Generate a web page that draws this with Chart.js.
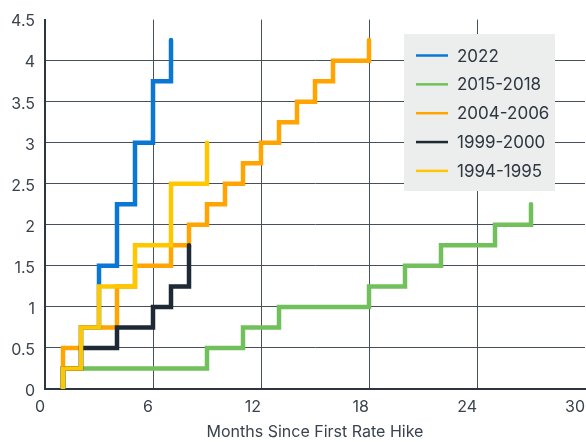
<!DOCTYPE html>
<html>
<head>
<meta charset="utf-8">
<title>Fed Hiking Cycles</title>
<script src="https://cdn.jsdelivr.net/npm/chart.js@4/dist/chart.umd.min.js"></script>
<style>
  html, body { margin: 0; padding: 0; background: #ffffff; }
  #wrap { width: 586px; height: 442px; }
</style>
</head>
<body>
<div id="wrap"><canvas id="chart" width="586" height="442"></canvas></div>
<script>
// Cumulative rate increases (percentage points) by month of each hiking cycle.
const months2022 = [1, 1, 2, 3, 4, 5, 6, 7];
const rates2022  = [0, 0.25, 0.75, 1.5, 2.25, 3.0, 3.75, 4.25];

const months2015 = [1, 1, 9, 11, 13, 18, 20, 22, 25, 27];
const rates2015  = [0, 0.25, 0.5, 0.75, 1.0, 1.25, 1.5, 1.75, 2.0, 2.25];

const months2004 = [1, 1, 2, 4, 5, 7, 8, 9, 10, 11, 12, 13, 14, 15, 16, 18];
const rates2004  = [0, 0.5, 0.75, 1.25, 1.5, 1.75, 2.0, 2.25, 2.5, 2.75, 3.0, 3.25, 3.5, 3.75, 4.0, 4.25];

const months1999 = [1, 1, 2, 4, 6, 7, 8];
const rates1999  = [0, 0.25, 0.5, 0.75, 1.0, 1.25, 1.75];

const months1994 = [1, 1, 2, 3, 5, 7, 9];
const rates1994  = [0, 0.25, 0.75, 1.25, 1.75, 2.5, 3.0];

const seriesLabels = ['2022', '2015-2018', '2004-2006', '1999-2000', '1994-1995'];
const seriesColors = ['#0b77d5', '#72c05c', '#ffa400', '#1d2935', '#ffc700'];
// lower value = drawn on top
const drawOrder = [2, 4, 3, 1, 0];

const xTicksMax = 30;
const yTicksMax = 4.5;
const axisTitle = 'Months Since First Rate Hike';

const FONT = 'Inter, "Open Sans", sans-serif';
const TEXT = '#3a434d';

const toPoints = (ms, rs) => ms.map((m, i) => ({ x: m, y: rs[i] }));
const seriesData = [
  toPoints(months2022, rates2022),
  toPoints(months2015, rates2015),
  toPoints(months2004, rates2004),
  toPoints(months1999, rates1999),
  toPoints(months1994, rates1994)
];

const datasets = seriesData.map((pts, i) => ({
  label: seriesLabels[i],
  data: pts,
  borderColor: seriesColors[i],
  backgroundColor: seriesColors[i],
  borderWidth: 4.5,
  stepped: 'before',
  pointRadius: 0,
  fill: false,
  borderCapStyle: 'round',
  borderJoinStyle: 'miter',
  order: drawOrder[i]
}));

// Legend box drawn inside the plot area
const boxLegend = {
  id: 'boxLegend',
  afterDraw(chart) {
    const ctx = chart.ctx;
    const left = 404, top = 34, w = 151, h = 157;
    ctx.save();
    ctx.fillStyle = '#eceeed';
    ctx.fillRect(left, top, w, h);
    ctx.font = '17px ' + FONT;
    ctx.textBaseline = 'middle';
    ctx.textAlign = 'left';
    chart.data.datasets.forEach((ds, i) => {
      const y = 55.5 + i * 28.85;
      ctx.strokeStyle = ds.borderColor;
      ctx.lineWidth = 2.5;
      ctx.beginPath();
      ctx.moveTo(416, y);
      ctx.lineTo(448, y);
      ctx.stroke();
      ctx.fillStyle = '#2e3640';
      ctx.fillText(ds.label, 457, y + 1);
    });
    ctx.restore();
  }
};

const trimNumber = v => String(Math.round(v * 100) / 100);

new Chart(document.getElementById('chart'), {
  type: 'line',
  data: { datasets },
  plugins: [boxLegend],
  options: {
    responsive: false,
    animation: false,
    layout: { padding: { top: 14, right: 1, left: 0, bottom: 0 } },
    plugins: {
      legend: { display: false },
      tooltip: { enabled: false }
    },
    scales: {
      x: {
        type: 'linear',
        min: 0,
        max: xTicksMax,
        afterFit(scale) {
          scale.height = 53;
          scale.paddingRight = 0;
        },
        ticks: {
          stepSize: 6,
          align: 'end',
          padding: 9,
          color: TEXT,
          font: { family: FONT, size: 16 },
          callback: v => trimNumber(v)
        },
        grid: {
          drawTicks: false,
          color: ctx => (ctx.tick && ctx.tick.value === xTicksMax) ? 'rgba(0,0,0,0)' : '#47505a',
          lineWidth: 1
        },
        border: { display: true, color: '#2c3540', width: 2 },
        title: {
          display: true,
          text: axisTitle,
          color: TEXT,
          font: { family: FONT, size: 16 },
          padding: { top: 4, bottom: 0 }
        }
      },
      y: {
        min: 0,
        max: yTicksMax,
        afterFit(scale) { scale.width = 45; },
        ticks: {
          stepSize: 0.5,
          padding: 10,
          labelOffset: 2,
          color: TEXT,
          font: { family: FONT, size: 16 },
          callback: v => trimNumber(v)
        },
        grid: {
          drawTicks: false,
          color: ctx => (ctx.tick && ctx.tick.value === yTicksMax) ? 'rgba(0,0,0,0)' : '#47505a',
          lineWidth: 1
        },
        border: { display: true, color: '#2c3540', width: 2 }
      }
    }
  }
});
</script>
</body>
</html>
